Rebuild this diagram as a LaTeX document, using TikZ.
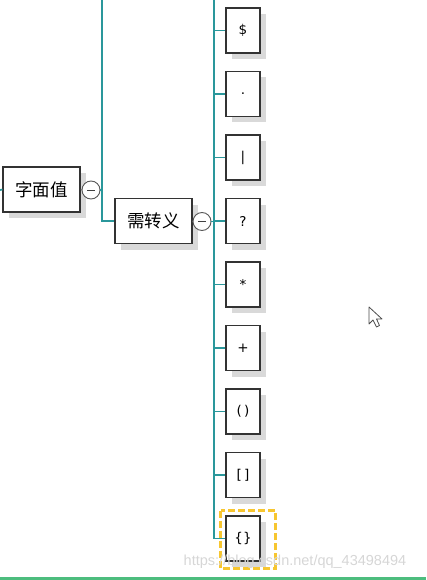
\documentclass[tikz,border=0pt]{standalone}
\usepackage{fontspec}
\setmainfont{Liberation Sans}
\newfontfamily\cjk{Noto Sans CJK SC}
\newfontfamily\lbl{DejaVu Sans}
\usetikzlibrary{shadows}
\definecolor{trunk}{HTML}{2A979B}
\definecolor{boxline}{HTML}{333333}
\definecolor{hl}{HTML}{F7C630}
\definecolor{barg}{HTML}{4DBD7E}
\tikzset{
  box/.style={draw=boxline, line width=1.1pt, fill=white, minimum width=34pt, minimum height=45pt, inner sep=0pt,
    drop shadow={shadow xshift=6pt, shadow yshift=-6pt, fill=black!15, opacity=1}, font=\lbl\fontsize{13.5}{14}\selectfont},
  cbox/.style={box, minimum width=77pt, minimum height=45pt, font=\cjk\fontsize{17.5}{18}\selectfont},
  toggle/.style={circle, draw=black!65, line width=0.9pt, fill=white, minimum size=18pt, inner sep=0pt,
    path picture={\draw[black!75, line width=0.9pt] ([xshift=-4pt]path picture bounding box.center) -- ([xshift=4pt]path picture bounding box.center);}},
  link/.style={draw=trunk, line width=1.7pt}
}
\begin{document}
\begin{tikzpicture}[x=1pt,y=-1pt]
\useasboundingbox (0,0) rectangle (426,580);
% left part
\coordinate (lin) at (0,190);
\coordinate (top1) at (102,0);
\coordinate (top2) at (214,0);
\coordinate (bot2) at (214,538.5);
\node[cbox] (zm) at (41.5,189.5) {字面值};
\node[toggle] (c1) at (91,190) {};
\node[cbox] (xzy) at (153.5,221) {需转义};
\node[toggle] (c2) at (202,221.5) {};
\draw[link] (lin) -- (zm.west);
\draw[black!65, line width=0.9pt] (zm.east) -- (c1.west);
\draw[link] (c1.east) -- (top1 |- c1.east);
\draw[link] (top1) |- (xzy.west);
\draw[black!65, line width=0.9pt] (xzy.east) -- (c2.west);
\draw[link] (c2.east) -- (top2 |- c2.east);
\draw[link] (top2) -- (bot2);
% right boxes
\foreach \n/\yy/\t in {b1/30.5/\$, b2/94/., b3/157.5/|, b4/221/?, b5/284.5/*, b6/348/+, b7/411.5/(\,), b8/475/[\,], b9/538.5/\{\}}{
  \node[box] (\n) at (243,\yy) {\t};
  \draw[link] (top2 |- \n.west) -- (\n.west);
}
% highlight
\draw[hl, line width=3pt, dash pattern=on 7pt off 3pt] (220.5,510.5) rectangle (275,568);
% cursor
\draw[black!70, fill=white, line width=0.8pt, line join=round]
  (369,307) -- (369,324) -- (373,320) -- (376.5,327) -- (379.5,325.5) -- (376.5,319) -- (382,319) -- cycle;
% watermark
\node[text=black!16, font=\fontsize{14.5}{15}\selectfont, anchor=center] (wm) at (295,562) {https://blog.csdn.net/qq\_43498494};
% bottom bar
\fill[barg] (0,576.5) rectangle (426,580);
\end{tikzpicture}
\end{document}
